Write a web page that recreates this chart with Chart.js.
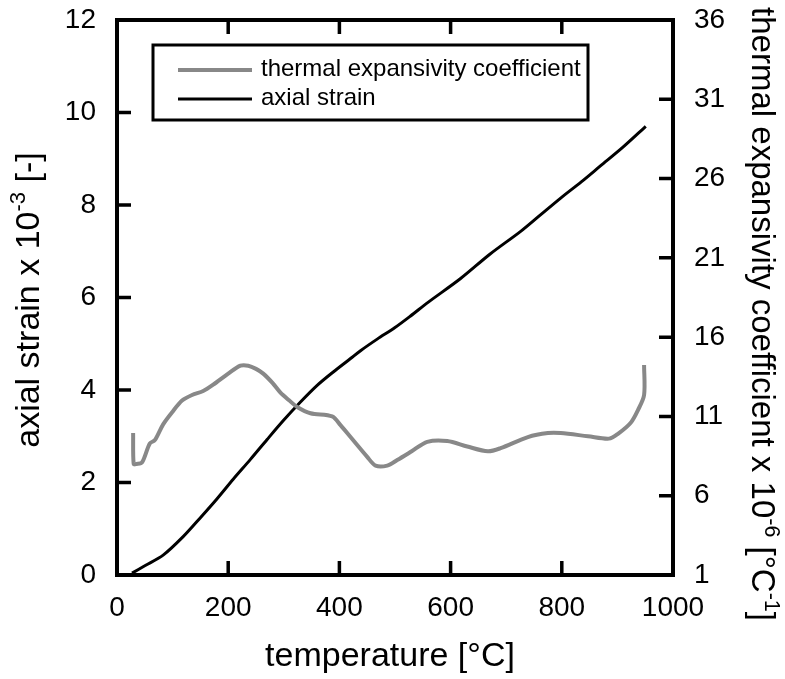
<!DOCTYPE html>
<html lang="en">
<head>
  <meta charset="UTF-8">
  <title>Axial strain and thermal expansivity</title>
  <script src="https://cdn.jsdelivr.net/npm/chart.js"></script>
  <style>
      body { margin: 0; background: #ffffff; }
      canvas { display: block; }
  </style>
</head>
<body>
  <canvas id="strainChart" width="785" height="679"></canvas>

  <script>
      // temperature [°C] vs axial strain x 10^-3 (black, left axis)
      var strainTemp = [27, 50, 83, 119, 150, 180, 209, 240, 270, 300, 330, 360, 389, 420,
                        438, 468, 500, 528, 560, 618, 670, 726, 760, 798, 835, 870, 910, 951];
      var strainVals = [0.04, 0.2, 0.43, 0.83, 1.24, 1.65, 2.07, 2.5, 2.93, 3.35, 3.74, 4.1, 4.39, 4.68,
                        4.85, 5.1, 5.35, 5.6, 5.9, 6.41, 6.93, 7.43, 7.77, 8.15, 8.5, 8.85, 9.25, 9.7];

      // temperature [°C] vs thermal expansivity coefficient x 10^-6 (grey, right axis)
      var alphaTemp = [29, 30, 35, 45, 59, 68, 83, 100, 117, 135, 155, 173, 200, 222, 236, 250, 263,
                       280, 294, 310, 324, 348, 387, 402, 420, 450, 465, 486, 504, 530, 558, 594, 630,
                       667, 690, 739, 775, 798, 847, 885, 901, 924, 937, 948, 948];
      var alphaVals = [9.95, 8.0, 8.0, 8.1, 9.3, 9.5, 10.5, 11.3, 12.0, 12.35, 12.6, 13.0, 13.7, 14.2, 14.2, 14.0, 13.7,
                       13.1, 12.5, 12.0, 11.6, 11.2, 11.0, 10.45, 9.7, 8.45, 7.9, 7.9, 8.25, 8.8, 9.4, 9.45, 9.1,
                       8.8, 9.0, 9.7, 9.95, 9.95, 9.75, 9.6, 9.9, 10.6, 11.4, 12.35, 14.25];

      var xTicks = [0, 200, 400, 600, 800, 1000];
      var leftTicks = [0, 2, 4, 6, 8, 10, 12];
      var rightTicks = [1, 6, 11, 16, 21, 26, 31, 36];

      var FONT = "'Liberation Sans', Arial, sans-serif";

      function pairs(xs, ys) {
          return xs.map((x, i) => ({ x: x, y: ys[i] }));
      }

      // draws text made of normal and superscript pieces, centred on (0,0)
      function drawRich(ctx, parts, size) {
          const supSize = size * 0.65;
          let total = 0;
          parts.forEach(p => {
              ctx.font = (p.sup ? supSize : size) + 'px ' + FONT;
              p.w = ctx.measureText(p.t).width;
              total += p.w;
          });
          let x = -total / 2;
          ctx.textAlign = 'left';
          ctx.textBaseline = 'alphabetic';
          parts.forEach(p => {
              ctx.font = (p.sup ? supSize : size) + 'px ' + FONT;
              ctx.fillText(p.t, x, p.sup ? -size * 0.4 : 0);
              x += p.w;
          });
      }

      Chart.register({
          id: 'frameAndTitles',
          afterDraw: (chart) => {
              const { ctx, chartArea: { left, right, top, bottom }, scales } = chart;
              ctx.save();
              ctx.strokeStyle = '#000';
              ctx.fillStyle = '#000';

              // inward tick marks
              ctx.lineWidth = 3.5;
              const tl = 14;
              ctx.beginPath();
              xTicks.forEach(v => {
                  const px = scales.x.getPixelForValue(v);
                  ctx.moveTo(px, bottom); ctx.lineTo(px, bottom - tl);
                  ctx.moveTo(px, top); ctx.lineTo(px, top + tl);
              });
              leftTicks.forEach(v => {
                  const py = scales.y.getPixelForValue(v);
                  ctx.moveTo(left, py); ctx.lineTo(left + tl, py);
              });
              rightTicks.forEach(v => {
                  const py = scales.y2.getPixelForValue(v);
                  ctx.moveTo(right, py); ctx.lineTo(right - tl, py);
              });
              ctx.stroke();

              // frame
              ctx.lineWidth = 4;
              ctx.strokeRect(left, top, right - left, bottom - top);

              // legend box
              ctx.lineWidth = 3;
              ctx.fillStyle = '#fff';
              ctx.fillRect(153, 45, 435, 75);
              ctx.strokeRect(153, 45, 435, 75);
              const ds = chart.data.datasets;
              [[0, 70, 76], [1, 99, 105]].forEach(([i, ly, by]) => {
                  ctx.strokeStyle = ds[i].borderColor;
                  ctx.lineWidth = ds[i].borderWidth;
                  ctx.beginPath();
                  ctx.moveTo(178, ly); ctx.lineTo(252, ly);
                  ctx.stroke();
                  ctx.fillStyle = '#000';
                  ctx.font = '24px ' + FONT;
                  ctx.textAlign = 'left';
                  ctx.textBaseline = 'alphabetic';
                  ctx.fillText(ds[i].label, 261, by);
              });

              // axis titles
              ctx.fillStyle = '#000';
              ctx.save();
              ctx.translate(390, 666);
              drawRich(ctx, [{ t: 'temperature [°C]' }], 34);
              ctx.restore();

              ctx.save();
              ctx.translate(39, 300);
              ctx.rotate(-Math.PI / 2);
              drawRich(ctx, [{ t: 'axial strain x 10' }, { t: '-3', sup: true }, { t: ' [-]' }], 34);
              ctx.restore();

              ctx.save();
              ctx.translate(752, 314);
              ctx.rotate(Math.PI / 2);
              drawRich(ctx, [{ t: 'thermal expansivity coefficient x 10' }, { t: '-6', sup: true },
                             { t: ' [°C' }, { t: '-1', sup: true }, { t: ']' }], 33);
              ctx.restore();

              ctx.restore();
          }
      });

      function setTicks(list) {
          return function (scale) { scale.ticks = list.map(v => ({ value: v })); };
      }

      var tickFont = { family: FONT, size: 28 };
      var plain = (v) => String(v);

      new Chart(document.getElementById('strainChart'), {
          type: 'line',
          data: {
              datasets: [
                  {
                      label: 'thermal expansivity coefficient',
                      data: pairs(alphaTemp, alphaVals),
                      yAxisID: 'y2',
                      borderColor: '#888888',
                      borderWidth: 4,
                      pointRadius: 0,
                      tension: 0.3,
                      fill: false
                  },
                  {
                      label: 'axial strain',
                      data: pairs(strainTemp, strainVals),
                      yAxisID: 'y',
                      borderColor: '#000000',
                      borderWidth: 3,
                      pointRadius: 0,
                      tension: 0.3,
                      fill: false
                  }
              ]
          },
          options: {
              responsive: false,
              animation: false,
              layout: { padding: 0 },
              scales: {
                  x: {
                      type: 'linear',
                      position: 'bottom',
                      min: 0, max: 1000,
                      afterBuildTicks: setTicks(xTicks),
                      afterFit: (s) => { s.height = 104; s.paddingLeft = 0; s.paddingRight = 0; },
                      grid: { display: false },
                      border: { display: false },
                      ticks: { color: '#000', font: tickFont, padding: 8, maxRotation: 0, callback: plain }
                  },
                  x2: {
                      type: 'linear',
                      position: 'top',
                      min: 0, max: 1000,
                      afterFit: (s) => { s.height = 20; s.paddingLeft = 0; s.paddingRight = 0; },
                      grid: { display: false },
                      border: { display: false },
                      ticks: { display: false }
                  },
                  y: {
                      position: 'left',
                      min: 0, max: 12,
                      afterBuildTicks: setTicks(leftTicks),
                      afterFit: (s) => { s.width = 117; s.paddingTop = 0; s.paddingBottom = 0; },
                      grid: { display: false },
                      border: { display: false },
                      ticks: { color: '#000', font: tickFont, padding: 13, callback: plain }
                  },
                  y2: {
                      position: 'right',
                      min: 1, max: 36,
                      afterBuildTicks: setTicks(rightTicks),
                      afterFit: (s) => { s.width = 112; s.paddingTop = 0; s.paddingBottom = 0; },
                      grid: { display: false },
                      border: { display: false },
                      ticks: { color: '#000', font: tickFont, padding: 13, callback: plain }
                  }
              },
              plugins: {
                  legend: { display: false },
                  tooltip: { enabled: false }
              }
          }
      });
  </script>
</body>
</html>
